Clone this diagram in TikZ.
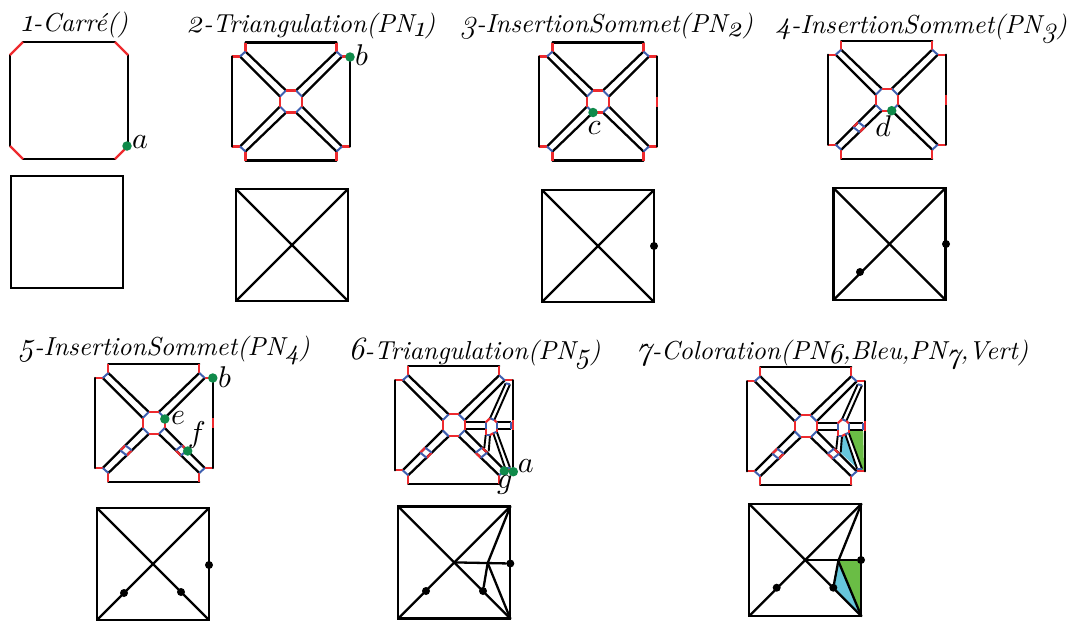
\documentclass[tikz,border=0pt]{standalone}
\usepackage{fontspec}
\newfontfamily\dgfont[Numbers=OldStyle]{Latin Modern Roman}
\definecolor{pnred}{HTML}{EE2A2E}
\definecolor{pnblue}{HTML}{3F5FB0}
\definecolor{pngreen}{HTML}{0F8A4A}
\definecolor{fillgreen}{HTML}{6ABD45}
\definecolor{fillblue}{HTML}{67C7DC}
\tikzset{
  edgeblack/.style={draw=black,line width=2.3pt,line cap=round},
  edgethin/.style={draw=black,line width=1.9pt},
  edgered/.style={draw=pnred,line width=2.2pt},
  edgeblue/.style={draw=pnblue,line width=2pt},
  gdot/.style={circle,fill=pngreen,inner sep=0pt,minimum size=9.5pt},
  kdot/.style={circle,fill=black,inner sep=0pt,minimum size=8pt},
  titletext/.style={anchor=base west,inner sep=0pt},
  lbl/.style={inner sep=0pt},
}
\newcommand{\dg}[1]{{\fontsize{12.5}{14}\dgfont\itshape #1}}
\newcommand{\sbs}[1]{\raisebox{-1.6pt}{\fontsize{11}{12}\dgfont\itshape #1}}
\newcommand{\ttl}[1]{\scalebox{2.6}{\fontsize{10}{12}\selectfont\itshape #1}}
\newcommand{\mlb}[1]{\scalebox{3}{$#1$}}
% one quadrant of the cut square (the top-left one, mirrored for the others)
\newcommand{\quadrantcore}{%
  \draw[edgeblack] (-45.5,59) -- (0,59);
  \draw[edgeblack] (-51,45) -- (-11,5);
  \draw[edgeblack] (-45.5,50) -- (-5,11);
  \draw[edgered] (-45.5,59) -- (-45.5,50);
  \draw[edgered] (-59,45) -- (-51,45);
  \draw[edgeblue] (-51,45) -- (-45.5,50);
  \draw[edgeblue] (-11,5) -- (-5,11);
  \draw[edgered] (-5,11) -- (0,11);
  \draw[edgered] (-11,5) -- (-11,0);
}
\newcommand{\PNcore}{%
  \foreach \sx in {1,-1}{\foreach \sy in {1,-1}{
    \begin{scope}[xscale=\sx,yscale=\sy]\quadrantcore\end{scope}}}
  \draw[edgeblack] (-59,45) -- (-59,-45);
}
\newcommand{\rightplain}{\draw[edgeblack] (59,45) -- (59,-45);}
\newcommand{\righttick}{%
  \draw[edgeblack] (59,45) -- (59,5);
  \draw[edgeblack] (59,-5) -- (59,-45);
  \draw[edgered] (59,5) -- (59,-5);
}
% inserted vertex on a corridor: 1 south-west, -1 south-east
\newcommand{\corridorquad}[1]{%
  \begin{scope}[xscale=#1]
    \draw[edgered] (-33.4,-27.4) -- (-28.4,-22.4);
    \draw[edgered] (-27,-32.5) -- (-22,-27.3);
    \draw[edgeblue] (-33.4,-27.4) -- (-27,-32.5);
    \draw[edgeblue] (-28.4,-22.4) -- (-22,-27.3);
  \end{scope}
}
% right part of PN5/PN6: small face and its corridors
\newcommand{\rightface}{%
  \draw[edgethin] (12,3) -- (32,3);
  \draw[edgethin] (12,-3.7) -- (32,-3.7);
  \draw[edgethin] (43,3) -- (57.5,3);
  \draw[edgethin] (43,-3.7) -- (57.5,-3.7);
  \draw[edgethin] (36.3,7) -- (52,42);
  \draw[edgethin] (40.6,5.3) -- (56.3,41);
  \draw[edgethin] (32,-9.7) -- (30.6,-22.5);
  \draw[edgethin] (36.3,-9.7) -- (35,-26);
  \draw[edgethin] (39.6,-8) -- (51.3,-42.4);
  \draw[edgethin] (43,-6.4) -- (56.3,-42.4);
  \draw[edgeblue] (52,42) -- (56.3,41);
  \draw[edgeblue] (51.3,-42.4) -- (56.3,-42.4);
  \draw[edgeblue] (57.5,3) -- (57.5,-3.7);
  \draw[edgeblue] (43,3) -- (43,-3.7);
  \draw[edgeblue] (32,3) -- (32,-3.7);
  \draw[edgeblue] (32,-9.7) -- (36.3,-9.7);
  \draw[edgeblue] (39.6,-8) -- (43,-6.4);
  \draw[edgeblue] (36.3,7) -- (40.6,5.3);
  \draw[edgered] (32,3) -- (36.3,7);
  \draw[edgered] (40.6,5.3) -- (43,3);
  \draw[edgered] (43,-3.7) -- (43,-6.4);
  \draw[edgered] (39.6,-8) -- (36.3,-9.7);
  \draw[edgered] (32,-9.7) -- (32,-3.7);
}
\begin{document}
\begin{tikzpicture}[x=1pt,y=-1pt]
\useasboundingbox (0,0) rectangle (1075,621);
% titles
\node[titletext] (t1) at (21,31) {\ttl{\dg{1}-Carré()}};
\node[titletext] (t2) at (186,32) {\ttl{\dg{2}-Triangulation(PN\sbs{1})}};
\node[titletext] (t3) at (460,32) {\ttl{\dg{3}-InsertionSommet(PN\sbs{2})}};
\node[titletext] (t4) at (775,33) {\ttl{\dg{4}-InsertionSommet(PN\sbs{3})}};
\node[titletext] (t5) at (18,355) {\ttl{\dg{5}-InsertionSommet(PN\sbs{4})}};
\node[titletext] (t6) at (348,359) {\ttl{\dg{6}-Triangulation(PN\sbs{5})}};
\node[titletext] (t7) at (636,359) {\ttl{\dg{7}-Coloration(PN\sbs{6},Bleu,PN\sbs{7},Vert)}};
% 1 top
\draw[edgeblack] (23,42) -- (115,42);
\draw[edgeblack] (128,55) -- (128,146);
\draw[edgeblack] (23,159) -- (115,159);
\draw[edgeblack] (10,55) -- (10,146);
\draw[edgered] (10,55) -- (23,42);
\draw[edgered] (115,42) -- (128,55);
\draw[edgered] (128,146) -- (115,159);
\draw[edgered] (23,159) -- (10,146);
\node[gdot] (pa) at (127,146) {};
\node[lbl,anchor=west] (la) at (132,142) {\mlb{a}};
% 2 top
\begin{scope}[shift={(291,101.5)},y=1pt]
  \PNcore\rightplain
  \node[gdot] (pb) at (59,44.5) {};
  \node[lbl,anchor=west] (lb) at (64,46) {\mlb{b}};
\end{scope}
% 3 top
\begin{scope}[shift={(598,101.5)},y=1pt]
  \PNcore\righttick
  \node[gdot] (pc) at (-5,-11) {};
  \node[lbl] (lc) at (-4,-27) {\mlb{c}};
\end{scope}
% 4 top
\begin{scope}[shift={(886.7,99.7)},y=1pt]
  \PNcore\righttick\corridorquad{1}
  \node[gdot] (pd) at (5,-11) {};
  \node[lbl] (ld) at (-3.5,-26) {\mlb{d}};
\end{scope}
% 5 top
\begin{scope}[shift={(153.8,423)},y=1pt]
  \PNcore\righttick\corridorquad{1}\corridorquad{-1}
  \node[gdot] (pb2) at (59,45) {};
  \node[lbl,anchor=west] (lb2) at (64,46) {\mlb{b}};
  \node[gdot] (pe) at (11,4) {};
  \node[lbl,anchor=west] (le) at (17,5) {\mlb{e}};
  \node[gdot] (pf) at (33.9,-28) {};
  \node[lbl] (lf) at (43,-12) {\mlb{f}};
\end{scope}
% 6 top
\begin{scope}[shift={(453.7,425.3)},y=1pt]
  \PNcore\righttick\corridorquad{1}\corridorquad{-1}\rightface
  \node[gdot] (pg) at (50.6,-45.7) {};
  \node[gdot] (pa2) at (59.6,-46.4) {};
  \node[lbl,anchor=west] (la2) at (64,-41) {\mlb{a}};
  \node[lbl] (lg) at (51,-60) {\mlb{g}};
\end{scope}
% 7 top
\begin{scope}[shift={(805.7,426.3)},y=1pt]
  \fill[fillgreen] (42.6,-4.7) -- (57.5,-4.7) -- (58.3,-44.7) -- (56,-44.7) -- cycle;
  \fill[fillblue] (35.3,-9.4) -- (40.3,-8.7) -- (51.6,-42) -- (34.3,-26) -- cycle;
  \PNcore\righttick\corridorquad{1}\corridorquad{-1}\rightface
\end{scope}
% bottom squares
\newcommand{\squarecoords}[3]{%
  \coordinate (#1nw) at (#2,#3);
  \coordinate (#1ne) at (#2+112,#3);
  \coordinate (#1se) at (#2+112,#3+112);
  \coordinate (#1sw) at (#2,#3+112);
  \draw[edgeblack] (#1nw) -- (#1ne) -- (#1se) -- (#1sw) -- cycle;
}
\newcommand{\squarediags}[1]{%
  \draw[edgeblack] (#1nw) -- (#1se);
  \draw[edgeblack] (#1ne) -- (#1sw);
}
\squarecoords{A}{11}{176}
\squarecoords{B}{236}{189}\squarediags{B}
\squarecoords{C}{542}{190}\squarediags{C}
\node[kdot] (c1) at (654,246) {};
\squarecoords{D}{833.5}{188}\squarediags{D}
\node[kdot] (d1) at (946,244) {};
\node[kdot] (d2) at (860,272) {};
\squarecoords{E}{97}{508}\squarediags{E}
\node[kdot] (e1) at (209,565) {};
\node[kdot] (e2) at (124,593) {};
\node[kdot] (e3) at (181,592) {};
% 6 bottom
\squarecoords{F}{398.3}{506.5}\squarediags{F}
\coordinate (Fc) at (454.7,562.4);
\coordinate (Fv) at (487.7,563);
\node[kdot] (Fr) at (510.3,563.5) {};
\node[kdot] (Fp) at (483,591) {};
\node[kdot] (Fq) at (426,591) {};
\draw[edgeblack] (Fc) -- (Fr);
\draw[edgeblack] (Fne) -- (Fv) -- (Fse);
\draw[edgeblack] (Fv) -- (Fp);
% 7 bottom
\coordinate (Gse0) at (861,616);
\coordinate (Gv) at (838.3,561);
\coordinate (Gr) at (861,561);
\coordinate (Gpp) at (833.3,587.7);
\fill[fillgreen] (Gv) -- (Gr) -- (Gse0) -- cycle;
\fill[fillblue] (Gv) -- (Gpp) -- (Gse0) -- cycle;
\squarecoords{G}{749.3}{504}\squarediags{G}
\coordinate (Gc) at (805.7,560);
\node[kdot] (Gd) at (861,560) {};
\node[kdot] (Gp) at (833.3,587.7) {};
\node[kdot] (Gq) at (776.7,587.7) {};
\draw[edgeblack] (Gc) -- (Gd);
\draw[edgeblack] (Gne) -- (Gv) -- (Gse);
\draw[edgeblack] (Gv) -- (Gp);
\end{tikzpicture}
\end{document}
